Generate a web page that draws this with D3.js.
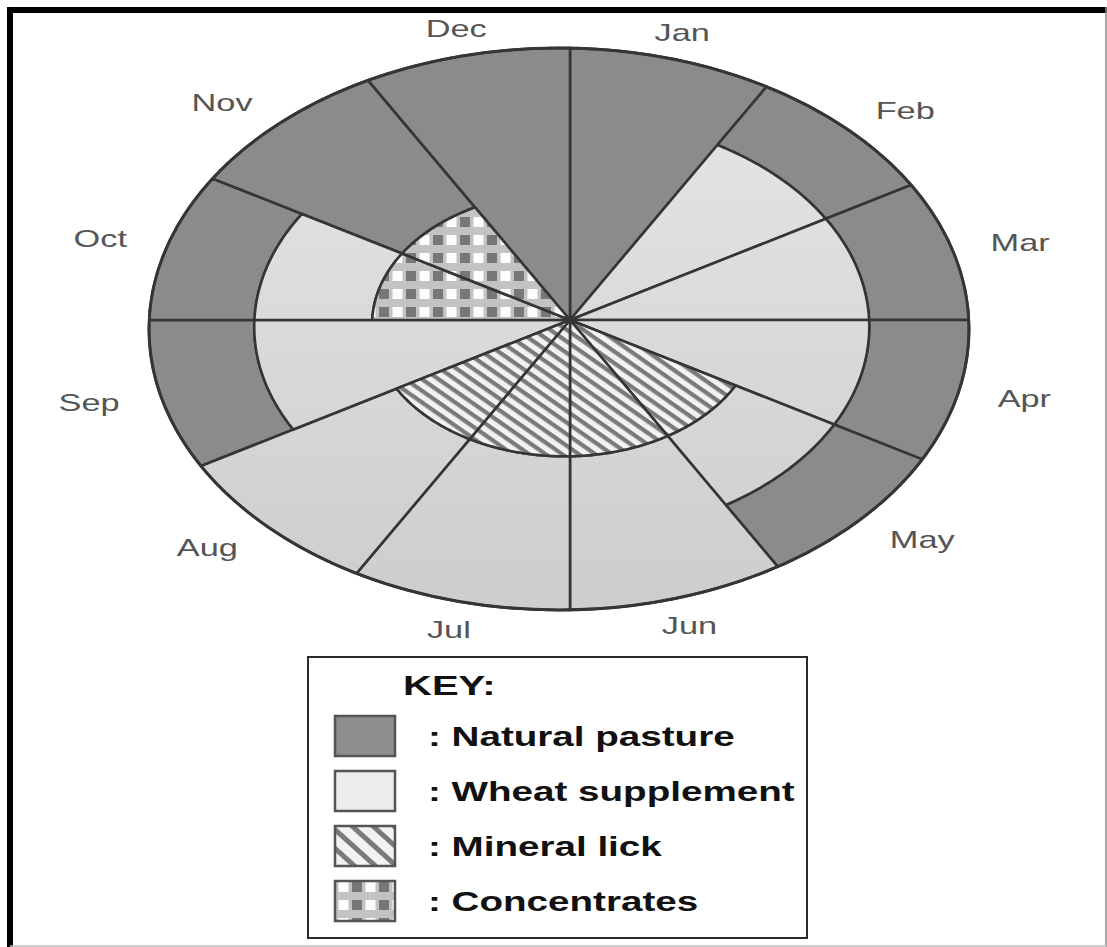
<!DOCTYPE html>
<html>
<head>
<meta charset="utf-8">
<script src="https://cdn.jsdelivr.net/npm/d3@7"></script>
<style>
  body { margin: 0; background: #fff; }
  svg { display: block; font-family: "Liberation Sans", Arial, sans-serif; }
</style>
</head>
<body>
<svg id="chart" width="1107" height="947"></svg>
<script>
// months around the clock, starting at 12 o'clock and going clockwise
var months = ["Jan", "Feb", "Mar", "Apr", "May", "Jun", "Jul", "Aug", "Sep", "Oct", "Nov", "Dec"];
var feeds = ["Natural pasture", "Wheat supplement", "Mineral lick", "Concentrates"];

// band of each feed per month, as [from, to] in % of the radius; null = not fed that month
var naturalPasture  = [[0, 100], [75, 100], [75, 100], [75, 100], [75, 100], null, null, null, [75, 100], [75, 100], [47, 100], [0, 100]];
var wheatSupplement = [null, [0, 75], [0, 75], [0, 75], [47, 75], [47, 100], [47, 100], [47, 100], [0, 75], [47, 75], null, null];
var mineralLick     = [null, null, null, null, [0, 47], [0, 47], [0, 47], [0, 47], null, null, null, null];
var concentrates    = [null, null, null, null, null, null, null, null, null, [0, 47], [0, 47], null];

var feedBands = [naturalPasture, wheatSupplement, mineralLick, concentrates];

var svg = d3.select('#chart');
var width = +svg.attr('width'), height = +svg.attr('height');

// the wheel is drawn squashed, spokes meet a little off the middle of the rim
var hub = {x: 570, y: 320};
var rim = {x: 559, y: 329, rx: 410, ry: 281};
var textStretch = 1.43;

var angle = d3.scaleLinear().domain([0, months.length]).range([0, 2 * Math.PI]);
var radius = d3.scaleLinear().domain([0, 100]).range([0, 1]);

// distance factor from the hub to the rim along a spoke
function reach(a) {
    var ox = (hub.x - rim.x) / rim.rx, oy = (hub.y - rim.y) / rim.ry;
    var b = ox * Math.sin(a) - oy * Math.cos(a);
    return -b + Math.sqrt(b * b - (ox * ox + oy * oy - 1));
}

function project(a, r) {
    var t = reach(a) * r;
    return [hub.x + t * rim.rx * Math.sin(a), hub.y - t * rim.ry * Math.cos(a)];
}

function piecePath(d) {
    var a0 = angle(d.month), a1 = angle(d.month + 1);
    var r0 = radius(d.from), r1 = radius(d.to);
    var steps = 40, pts = [];
    for (var i = 0; i <= steps; i++) pts.push(project(a0 + (a1 - a0) * i / steps, r1));
    if (r0 === 0) {
        pts.push([hub.x, hub.y]);
    } else {
        for (var j = steps; j >= 0; j--) pts.push(project(a0 + (a1 - a0) * j / steps, r0));
    }
    return d3.line().curve(d3.curveLinearClosed)(pts);
}

var pieces = [];
feedBands.forEach(function(band, f) {
    band.forEach(function(v, m) {
        if (v) pieces.push({feed: feeds[f], month: m, from: v[0], to: v[1]});
    });
});

// fills
var defs = svg.append('defs');

var shade = defs.append('linearGradient')
    .attr('id', 'wheatShade')
    .attr('gradientUnits', 'userSpaceOnUse')
    .attr('x1', 0).attr('x2', 0)
    .attr('y1', rim.y - rim.ry).attr('y2', rim.y + rim.ry);
shade.append('stop').attr('offset', '0%').attr('stop-color', '#e7e7e7');
shade.append('stop').attr('offset', '100%').attr('stop-color', '#cdcdcd');

function hatchPattern(id, step, thick, turn) {
    var p = defs.append('pattern')
        .attr('id', id)
        .attr('patternUnits', 'userSpaceOnUse')
        .attr('width', step).attr('height', step)
        .attr('patternTransform', 'rotate(' + turn + ')');
    p.append('rect').attr('width', step).attr('height', step).attr('fill', '#f2f2f2');
    p.append('rect').attr('y', 0).attr('width', step).attr('height', thick).attr('fill', '#7a7a7a');
}
hatchPattern('hatch', 9.5, 4.2, 35);
hatchPattern('hatchKey', 14, 5, 42);

var checks = defs.append('pattern')
    .attr('id', 'checks')
    .attr('patternUnits', 'userSpaceOnUse')
    .attr('width', 27).attr('height', 18);
checks.append('rect').attr('width', 27).attr('height', 18).attr('fill', '#c3c3c3');
checks.append('rect').attr('x', 1).attr('y', 1).attr('width', 10).attr('height', 10).attr('fill', '#777');
checks.append('rect').attr('x', 14.5).attr('y', 1).attr('width', 10).attr('height', 10).attr('fill', '#fdfdfd');

var chartFill = {
    'Natural pasture': '#8b8b8b',
    'Wheat supplement': 'url(#wheatShade)',
    'Mineral lick': 'url(#hatch)',
    'Concentrates': 'url(#checks)'
};
var keyFill = {
    'Natural pasture': '#8e8e8e',
    'Wheat supplement': '#ececec',
    'Mineral lick': 'url(#hatchKey)',
    'Concentrates': 'url(#checks)'
};

// page frame
svg.append('line').attr('x1', 7).attr('x2', width).attr('y1', 10).attr('y2', 10)
    .attr('stroke', '#000').attr('stroke-width', 6);
svg.append('line').attr('x1', 10).attr('x2', 10).attr('y1', 7).attr('y2', height)
    .attr('stroke', '#000').attr('stroke-width', 6);
svg.append('line').attr('x1', width - 1).attr('x2', width - 1).attr('y1', 7).attr('y2', height)
    .attr('stroke', '#8a8a8a').attr('stroke-width', 1.5);
svg.append('line').attr('x1', 10).attr('x2', width).attr('y1', height - 1).attr('y2', height - 1)
    .attr('stroke', '#bdbdbd').attr('stroke-width', 1.5);

// wheel
var wheel = svg.append('g').attr('class', 'wheel');

wheel.selectAll('path.piece')
    .data(pieces)
    .enter().append('path')
        .attr('class', 'piece')
        .attr('d', piecePath)
        .attr('fill', function(d) { return chartFill[d.feed]; })
        .attr('stroke', '#353535')
        .attr('stroke-width', 2.6)
        .attr('stroke-linejoin', 'round');

wheel.append('ellipse')
    .attr('cx', rim.x).attr('cy', rim.y)
    .attr('rx', rim.rx).attr('ry', rim.ry)
    .attr('fill', 'none')
    .attr('stroke', '#353535')
    .attr('stroke-width', 3);

// month labels just outside the rim
wheel.selectAll('text.month')
    .data(months)
    .enter().append('text')
        .attr('class', 'month')
        .attr('transform', function(d, i) {
            var p = project(angle(i + 0.5), 1.1);
            return 'translate(' + p[0] + ',' + p[1] + ') scale(' + textStretch + ',1)';
        })
        .attr('dy', '0.35em')
        .style('text-anchor', function(d, i) {
            var s = Math.sin(angle(i + 0.5));
            if (s > 0.35) return 'start';
            if (s < -0.35) return 'end';
            return 'middle';
        })
        .attr('font-size', 24)
        .attr('fill', '#555')
        .text(function(d) { return d; });

// key
var key = svg.append('g').attr('class', 'key');

key.append('rect')
    .attr('x', 308).attr('y', 657)
    .attr('width', 499).attr('height', 281)
    .attr('fill', '#fff')
    .attr('stroke', '#2b2b2b')
    .attr('stroke-width', 2);

key.append('text')
    .attr('transform', 'translate(403,695) scale(' + textStretch + ',1)')
    .attr('font-size', 28)
    .attr('font-weight', 'bold')
    .attr('fill', '#111')
    .text('KEY:');

var row = d3.scaleBand().domain(feeds).range([716, 936]);

var item = key.selectAll('g.item')
    .data(feeds)
    .enter().append('g')
        .attr('class', 'item')
        .attr('transform', function(d) { return 'translate(0,' + row(d) + ')'; });

item.append('rect')
    .attr('x', 335).attr('y', 0)
    .attr('width', 60).attr('height', 40)
    .attr('fill', function(d) { return keyFill[d]; })
    .attr('stroke', '#555')
    .attr('stroke-width', 2.5);

item.append('text')
    .attr('transform', 'translate(428,30) scale(' + textStretch + ',1)')
    .attr('font-size', 27)
    .attr('font-weight', 'bold')
    .attr('fill', '#111')
    .text(function(d) { return ': ' + d; });
</script>
</body>
</html>
